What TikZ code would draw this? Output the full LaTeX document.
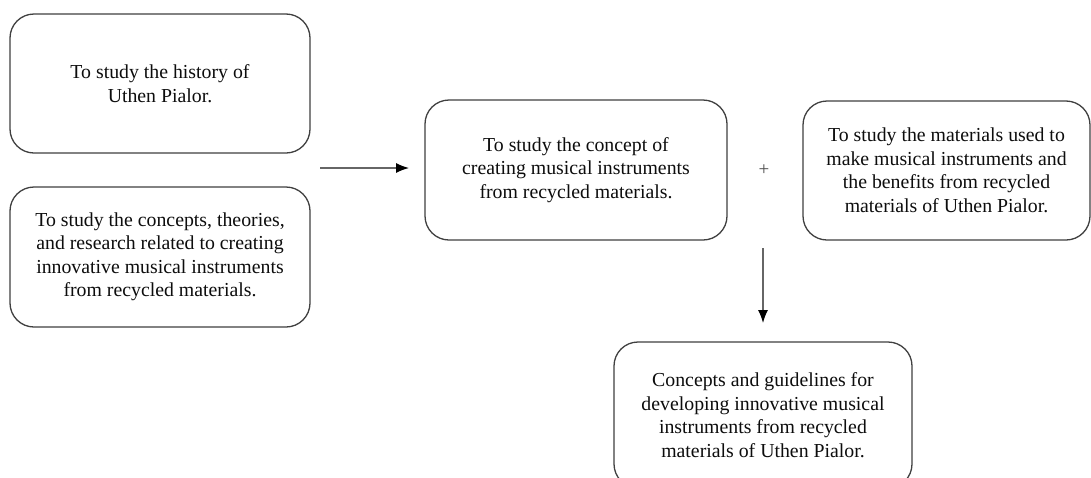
\documentclass[tikz,border=0pt]{standalone}
\usepackage{fontspec}
\setmainfont{Liberation Serif}
\usetikzlibrary{arrows.meta}
\begin{document}
\begin{tikzpicture}[x=1pt,y=-1pt,
  box/.style={draw=black!75, line width=1.3pt, rounded corners=24pt, align=center,
    font=\fontsize{19.8}{23.5}\selectfont, text=black!95, inner sep=0pt},
  conn/.style={draw=black!60, line width=1.3pt, -{Latex[length=13pt,width=10pt,black]}}]
\useasboundingbox (0,0) rectangle (1091,477);
\clip (0,0) rectangle (1091,477);
\fill[white] (0,0) rectangle (1091,477);
\node[box, minimum width=300pt, minimum height=139pt] (b1) at (160,83.5)
  {To study the history of\\Uthen Pialor.};
\node[box, minimum width=300pt, minimum height=140pt] (b2) at (160,257)
  {To study the concepts, theories,\\and research related to creating\\innovative musical instruments\\from recycled materials.};
\node[box, minimum width=302pt, minimum height=140pt] (b3) at (576,170)
  {To study the concept of\\creating musical instruments\\from recycled materials.};
\node[box, minimum width=287pt, minimum height=139pt] (b4) at (946.5,170.5)
  {To study the materials used to\\make musical instruments and\\the benefits from recycled\\materials of Uthen Pialor.};
\node[box, minimum width=298pt, minimum height=146pt] (b5) at (763,415)
  {Concepts and guidelines for\\developing innovative musical\\instruments from recycled\\materials of Uthen Pialor.};
\node[font=\fontsize{19}{20}\selectfont, text=black!70] (plus) at (764,170) {+};
\coordinate (h1) at (320,168);
\coordinate (h2) at (409,168);
\coordinate (v1) at (763,248);
\coordinate (v2) at (763,323);
\draw[conn] (h1) -- (h2);
\draw[conn] (v1) -- (v2);
\end{tikzpicture}
\end{document}
